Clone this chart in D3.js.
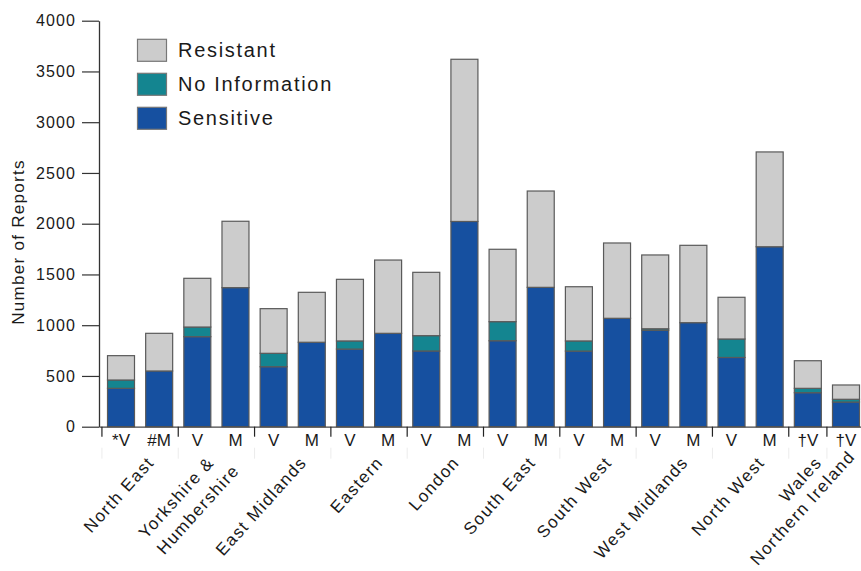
<!DOCTYPE html>
<html><head><meta charset="utf-8">
<script src="https://cdn.jsdelivr.net/npm/d3@7"></script>
<style>
body{margin:0;background:#fff}
text{font-family:"Liberation Sans",Arial,Helvetica,sans-serif;fill:#1a1a1a}
</style>
</head><body><svg id="c" width="861" height="571"></svg>
<script>
const regions = ["North East", "Yorkshire &\nHumbershire", "East Midlands", "Eastern", "London",
  "South East", "South West", "West Midlands", "North West", "Wales", "Northern Ireland"];
const regionOf = [0,0,1,1,2,2,3,3,4,4,5,5,6,6,7,7,8,8,9,10];
const barLabels = ["*V","#M","V","M","V","M","V","M","V","M","V","M","V","M","V","M","V","M","\u2020V","\u2020V"];
const sensitive = [378, 549, 887, 1370, 591, 832, 765, 920, 746, 2022, 847, 1373, 745, 1068, 950, 1025, 682, 1773, 335, 243];
const noInfo    = [82, 0, 95, 0, 132, 0, 80, 0, 151, 0, 188, 0, 100, 0, 15, 0, 182, 0, 43, 27];
const resistant = [240, 371, 480, 654, 440, 492, 607, 722, 624, 1598, 713, 949, 534, 742, 727, 762, 411, 934, 272, 141];
const seriesNames = ["Sensitive", "No Information", "Resistant"];
const legendOrder = ["Resistant", "No Information", "Sensitive"];
const yTicks = [0, 500, 1000, 1500, 2000, 2500, 3000, 3500, 4000];
const yTitle = "Number of Reports";
const colors = {"Sensitive": "#1650a0", "No Information": "#148590", "Resistant": "#cccccc"};

const svg = d3.select("#c");
const x = d3.scaleBand().domain(d3.range(barLabels.length)).range([99, 868])
  .paddingInner(0.2925).paddingOuter(0.223);
const y = d3.scaleLinear().domain([0, 4000]).range([426.7, 20.7]);
const bw = x.bandwidth();

// bars
const table = barLabels.map((l, i) => ({i, "Sensitive": sensitive[i], "No Information": noInfo[i], "Resistant": resistant[i]}));
const stacked = d3.stack().keys(seriesNames)(table);
svg.append("g").selectAll("g").data(stacked).join("g")
  .attr("fill", d => colors[d.key])
  .selectAll("rect").data(d => d.filter(s => s[1] > s[0])).join("rect")
  .attr("x", d => x(d.data.i)).attr("width", bw)
  .attr("y", d => y(d[1])).attr("height", d => y(d[0]) - y(d[1]))
  .attr("stroke", "#5a5a5a").attr("stroke-width", 1.2);

// y axis
const ya = svg.append("g").attr("transform", "translate(99,0)")
  .call(d3.axisLeft(y).tickValues(yTicks).tickFormat(d3.format("d"))
    .tickSize(17).tickSizeOuter(0).tickPadding(6));
ya.selectAll("text").style("font-size", "16px").style("letter-spacing", "1.1px")
  .style("font-family", '"Liberation Sans",Arial,sans-serif').attr("fill", "#1a1a1a");
ya.selectAll("line").attr("stroke", "#333").attr("stroke-width", 1.2);
ya.select(".domain").attr("stroke", "#333").attr("stroke-width", 1.3);

svg.append("text").attr("transform", "translate(24,242) rotate(-90)")
  .attr("text-anchor", "middle").style("font-size", "17px").style("letter-spacing", "1.3px")
  .text(yTitle);

// x axis
const xa = svg.append("g").attr("transform", `translate(0,${y(0)})`)
  .call(d3.axisBottom(x).tickFormat(i => barLabels[i]).tickSize(0).tickSizeOuter(0).tickPadding(7));
xa.selectAll("text").style("font-size", "17px")
  .style("font-family", '"Liberation Sans",Arial,sans-serif').attr("fill", "#1a1a1a");
xa.select(".domain").attr("stroke", "#444").attr("stroke-width", 1.3);

// group separators
const sepIdx = d3.range(barLabels.length).filter(i => i === 0 || regionOf[i] !== regionOf[i - 1]);
const sepX = i => x(i) - x.step() * x.paddingInner() / 2;
svg.append("g").selectAll("line").data(sepIdx).join("line")
  .attr("x1", sepX).attr("x2", sepX).attr("y1", y(0)).attr("y2", y(0) + 10)
  .attr("stroke", "#222").attr("stroke-width", 1.2);
svg.append("g").selectAll("line").data(sepIdx).join("line")
  .attr("x1", sepX).attr("x2", sepX).attr("y1", y(0) + 21).attr("y2", y(0) + 32)
  .attr("stroke", "#ececec").attr("stroke-width", 1);

// region labels
regions.forEach((name, r) => {
  const idx = d3.range(barLabels.length).filter(i => regionOf[i] === r);
  const cx = d3.mean(idx, i => x(i) + bw / 2);
  let ax = cx + 15, ay = 463;
  const g = svg.append("g").attr("transform", `translate(${ax},${ay}) rotate(-48)`);
  const lines = name.split("\n");
  const ts = lines.map((ln, k) => g.append("text")
    .attr("y", (k - (lines.length - 1) / 2) * 24)
    .attr("text-anchor", "end")
    .style("font-size", "17px").style("letter-spacing", "1.5px").text(ln));
  if (lines.length > 1) {
    const minX = d3.min(ts, t => t.node().getBBox().x);
    ts.forEach(t => t.attr("text-anchor", "start").attr("x", minX));
  }
  const rect = g.node().getBoundingClientRect();
  const sx = Math.max(0, rect.right - 859), sy = Math.max(0, rect.bottom - 569);
  if (sx || sy) {
    ax -= sx; ay -= sy;
    g.attr("transform", `translate(${ax},${ay}) rotate(-48)`);
  }
});

// legend
const lg = svg.append("g");
legendOrder.forEach((k, j) => {
  const yy = 39.3 + j * 34;
  lg.append("rect").attr("x", 137.5).attr("y", yy).attr("width", 29).attr("height", 22)
    .attr("fill", colors[k]).attr("stroke", "#777").attr("stroke-width", 1.2);
  lg.append("text").attr("x", 178).attr("y", yy + 18).style("font-size", "20px")
    .style("letter-spacing", "1.7px").text(k);
});
</script>
</body></html>
